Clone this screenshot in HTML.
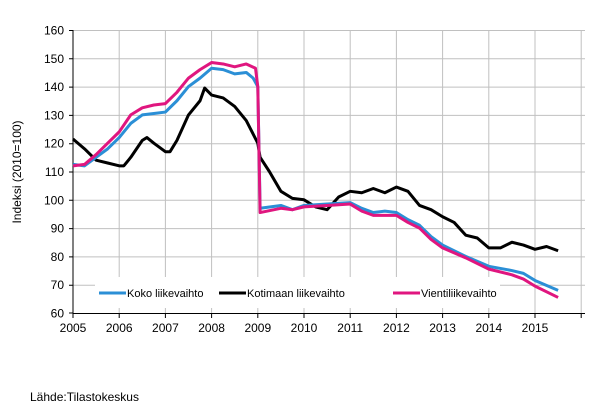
<!DOCTYPE html><html><head><style>body{margin:0;background:#fff}svg{display:block;font-family:"Liberation Sans",Arial,sans-serif}</style></head><body>
<svg width="605" height="416" viewBox="0 0 605 416">
<g stroke="#c0c0c0" stroke-width="1" fill="none">
<path d="M73 30.5H585M73 58.8H585M73 87.1H585M73 115.4H585M73 143.7H585M73 172H585M73 200.3H585M73 228.6H585M73 256.9H585M73 285.2H585"/>
<path d="M119.2 30V313M165.4 30V313M211.6 30V313M257.8 30V313M304 30V313M350.2 30V313M396.4 30V313M442.6 30V313M488.8 30V313M535 30V313M581.2 30V313"/>
</g>
<rect x="95" y="277" width="405" height="31" fill="#fff"/>
<g stroke="#000" stroke-width="1" fill="none"><path d="M73 30V313.5H585"/>
<path d="M73 313V318M119.2 313V318M165.4 313V318M211.6 313V318M257.8 313V318M304 313V318M350.2 313V318M396.4 313V318M442.6 313V318M488.8 313V318M535 313V318M581.2 313V318"/>
<path d="M69 30.5H73M69 58.8H73M69 87.1H73M69 115.4H73M69 143.7H73M69 172H73M69 200.3H73M69 228.6H73M69 256.9H73M69 285.2H73M69 313H73"/></g>
<g font-size="12" fill="#000" text-anchor="end">
<text x="64" y="34.5">160</text><text x="64" y="62.8">150</text><text x="64" y="91.1">140</text><text x="64" y="119.4">130</text><text x="64" y="147.7">120</text><text x="64" y="176">110</text><text x="64" y="204.3">100</text><text x="64" y="232.6">90</text><text x="64" y="260.9">80</text><text x="64" y="289.2">70</text><text x="64" y="317.5">60</text></g>
<g font-size="12" fill="#000" text-anchor="middle">
<text x="73" y="332">2005</text><text x="119.2" y="332">2006</text><text x="165.4" y="332">2007</text><text x="211.6" y="332">2008</text><text x="257.8" y="332">2009</text><text x="304" y="332">2010</text><text x="350.2" y="332">2011</text><text x="396.4" y="332">2012</text><text x="442.6" y="332">2013</text><text x="488.8" y="332">2014</text><text x="535" y="332">2015</text></g>
<text transform="translate(21,172) rotate(-90)" font-size="12" text-anchor="middle">Indeksi (2010=100)</text>
<text x="30" y="401" font-size="12">Lähde:Tilastokeskus</text>
<g transform="translate(73,313) scale(46.2,-2.83)" fill="none" stroke-width="3" stroke-linejoin="round">
<polyline vector-effect="non-scaling-stroke" stroke="#000" points="0,61.5 .25,58 .5,54 .75,53 1,52 1.1,52 1.25,55 1.5,61 1.6,62 1.75,60 2,57 2.1,57 2.25,61 2.5,70 2.75,75 2.85,79.5 3,77 3.25,76 3.5,73 3.75,68 4,60 4.05,55 4.25,50 4.5,43 4.75,40.5 5,40 5.25,37.5 5.5,36.5 5.75,41 6,43 6.25,42.5 6.5,44 6.75,42.5 7,44.5 7.25,43 7.5,38 7.75,36.5 8,34 8.25,32 8.5,27.5 8.75,26.5 9,23 9.25,23 9.5,25 9.75,24 10,22.5 10.25,23.5 10.5,22"/>
<polyline vector-effect="non-scaling-stroke" stroke="#2b8fd6" points="0,52.5 .25,52 .5,55 .75,58 1,62 1.25,67 1.5,70 1.75,70.5 2,71 2.25,75 2.5,80 2.75,83 3,86.5 3.25,86 3.5,84.5 3.75,85 3.9,83 4,80 4.05,37 4.5,38 4.75,36.5 5,38 5.5,38.5 6,39 6.25,37 6.5,35.5 6.75,36 7,35.5 7.25,33 7.5,31 7.75,27 8,24 8.5,20 9,16.5 9.5,15 9.75,14 10,11.5 10.5,8"/>
<polyline vector-effect="non-scaling-stroke" stroke="#e0167f" points="0,52 .25,52.5 .5,56 .75,60 1,64 1.25,70 1.5,72.5 1.75,73.5 2,74 2.25,78 2.5,83 2.75,86 3,88.5 3.25,88 3.5,87 3.75,88 3.95,86.5 4,80 4.05,35.5 4.5,37 4.75,36.5 5,37.5 5.5,38 6,38.5 6.25,36 6.5,34.5 7,34.5 7.25,32 7.5,30 7.75,26 8,23 8.5,19.5 9,15.5 9.5,13.5 9.75,12 10,9.5 10.5,5.5"/>
</g>
<g stroke-width="3"><path d="M99 293H126" stroke="#2b8fd6"/><path d="M219 293H246" stroke="#000"/><path d="M393 293H420" stroke="#e0167f"/></g>
<g font-size="11" fill="#000"><text x="127" y="297">Koko liikevaihto</text><text x="247" y="297">Kotimaan liikevaihto</text><text x="421" y="297">Vientiliikevaihto</text></g>
</svg></body></html>
